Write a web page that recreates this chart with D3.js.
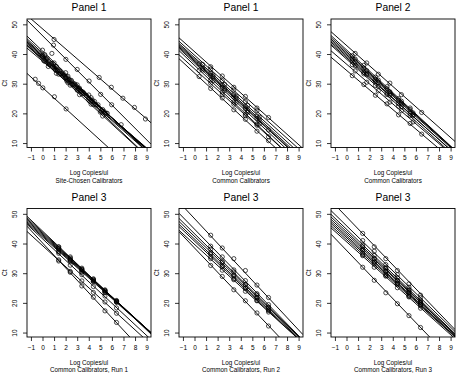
<!DOCTYPE html>
<html lang="en">
<head>
<meta charset="utf-8">
<title>Standard curves by panel</title>
<style type="text/css">
  body { margin: 0; background: #fff; }
  svg { display: block; }
  text { font-family: "Liberation Sans", Arial, Helvetica, sans-serif; fill: #000; }
</style>
<script src="https://cdnjs.cloudflare.com/ajax/libs/d3/7.8.5/d3.min.js"></script>
</head>
<body>
<div id="chart"></div>
<script>
// axis ticks
var xTicks = [-1, 0, 1, 2, 3, 4, 5, 6, 7, 8, 9];
var yTicks = [10, 20, 30, 40, 50];

var panelTitles = ["Panel 1", "Panel 1", "Panel 2", "Panel 3", "Panel 3", "Panel 3"];
var xLabelTop = "Log Copies/ul";
var xLabelSub = ["Site-Chosen Calibrators", "Common Calibrators", "Common Calibrators",
  "Common Calibrators, Run 1", "Common Calibrators, Run 2", "Common Calibrators, Run 3"];

// fitted standard curves: [intercept, slope]  (Ct = a + b * log copies)
var siteFits = [[48.5,-3.375],[46.2,-3.9],[28.7,-3.55],[41.0,-3.75],[40.3,-3.62],[39.8,-3.55],
  [39.4,-3.48],[39.0,-3.42],[38.6,-3.36],[38.3,-3.45],[37.6,-3.28],[39.2,-3.72],[38.0,-3.6]];
var sitePoints = [
  [[1.0,44.9],[4.9,32.1],[5.95,28.8],[6.95,25.1],[7.95,22.0],[8.9,18.1]],
  [[0.95,43.0],[2.02,38.2],[3.0,34.8],[4.03,30.9],[5.03,26.4],[5.98,22.9]],
  [[-0.63,31.5],[-0.34,30.1],[0.03,28.6],[1.03,25.6],[2.04,21.5]],
  [[0.0,41.3],[0.81,40.2],[1.0,37.0],[2.0,33.7],[3.0,29.6],[4.0,26.2]],
  [[0.2,39.8],[1.2,35.8],[2.2,32.5],[3.2,28.5],[4.2,25.3],[5.2,21.3]],
  [[0.4,38.6],[1.5,34.3],[2.5,31.1],[3.5,27.2],[4.5,24.0],[5.5,20.1]],
  [[0.0,39.2],[0.8,36.8],[1.8,32.9],[2.8,29.9],[3.8,26.0],[4.8,22.9]],
  [[0.3,38.2],[1.3,34.4],[2.3,31.3],[3.3,27.5],[4.3,24.5],[5.3,20.7]],
  [[0.6,36.4],[1.6,33.4],[2.6,29.7],[3.6,26.7],[4.6,22.9],[5.6,20.0]],
  [[0.1,37.8],[1.1,34.7],[2.1,30.9],[3.1,27.8],[4.1,24.0],[5.1,20.9]],
  [[0.5,35.8],[1.4,33.2],[2.4,29.5],[3.4,26.6],[4.4,23.0],[5.4,20.1],[6.8,16.2]],
  [[0.0,39.6],[1.0,35.3],[2.0,32.0],[3.0,27.8],[4.0,24.5],[5.0,20.4]],
  [[0.2,37.5],[1.2,33.5],[2.2,30.3],[3.2,26.3],[4.2,23.1],[5.2,19.1]]
];

var common1Fits = [[40.8,-3.48],[39.6,-3.5],[38.8,-3.55],[38.3,-3.6],[37.9,-3.62],
  [37.5,-3.6],[37.0,-3.65],[36.2,-3.7],[35.0,-3.55],[33.6,-3.6]];
var common1Points = [
  [[1.4,35.7],[2.4,32.6],[3.4,28.8],[4.4,25.7],[5.4,21.8],[6.4,18.6]],
  [[1.4,34.9],[2.4,31.0],[3.4,27.9],[4.4,24.0],[5.4,20.9]],
  [[0.7,36.5],[1.6,32.9],[2.6,29.8],[3.6,25.8],[4.6,22.7],[5.6,18.7]],
  [[0.4,36.7],[1.4,33.5],[2.4,29.5],[3.4,26.3],[4.4,22.3],[5.4,19.1]],
  [[0.7,35.2],[1.6,32.3],[2.6,28.3],[3.6,25.1],[4.6,21.0],[5.6,17.8]],
  [[1.4,32.7],[2.4,28.7],[3.4,25.5],[4.4,21.5],[5.4,18.3],[6.4,14.4]],
  [[0.7,34.6],[1.6,31.0],[2.6,27.7],[3.6,23.7],[4.6,20.4],[5.6,16.4]],
  [[0.4,34.5],[1.4,31.2],[2.4,27.1],[3.4,23.8],[4.4,19.7],[5.4,16.4]],
  [[1.4,30.2],[2.4,26.3],[3.4,23.1],[4.4,19.2],[5.4,16.0],[6.4,12.1]],
  [[0.4,32.4],[1.4,28.4],[2.4,25.2],[3.4,21.2],[4.4,18.0],[5.4,14.0],[6.4,10.8]]
];

var panel2Fits = [[42.9,-3.45],[41.4,-3.6],[40.8,-3.55],[40.3,-3.5],[39.8,-3.48],
  [39.3,-3.52],[38.8,-3.45],[38.3,-3.5],[36.6,-3.35],[34.5,-3.3]];
var panel2Points = [
  [[0.75,40.2],[1.75,37.0],[2.75,33.2],[3.75,30.2],[4.75,26.3],[6.5,20.3]],
  [[0.5,39.4],[1.5,36.2],[2.5,32.2],[3.5,29.0],[4.5,25.0],[5.5,21.8]],
  [[0.75,38.3],[1.75,34.4],[2.75,31.2],[3.75,27.3],[4.75,24.1],[5.75,20.2]],
  [[0.5,38.4],[1.5,35.3],[2.5,31.4],[3.5,28.3],[4.5,24.4],[5.5,21.3]],
  [[0.75,37.4],[1.75,33.5],[2.75,30.4],[3.75,26.6],[4.75,23.5],[5.75,19.6]],
  [[0.5,37.7],[1.5,33.8],[2.5,30.7],[3.5,26.8],[4.5,23.3],[5.5,20.1]],
  [[0.75,36.0],[1.75,33.0],[2.75,29.1],[3.75,26.1],[4.75,22.2],[5.75,19.2]],
  [[0.5,36.4],[1.5,33.3],[2.5,29.4],[3.5,26.3],[4.5,22.4],[5.5,19.3]],
  [[0.75,34.3],[1.75,30.5],[2.75,27.6],[3.75,23.8],[4.75,20.9],[5.75,17.1]],
  [[0.5,32.7],[1.5,29.7],[2.5,26.1],[3.5,23.2],[4.5,19.5],[5.5,16.6],[6.5,13.0]]
];

// panel 3 runs all use the same calibrator levels
var runX = [1.4, 2.4, 3.4, 4.4, 5.4, 6.4];

var run1Fits = [[44.2,-3.7],[43.8,-3.62],[43.4,-3.56],[43.0,-3.52],[42.6,-3.48],
  [42.2,-3.45],[41.6,-3.62],[39.3,-3.55],[40.2,-4.2]];
var run1Ct = [
  [38.8,35.5,31.4,28.1,24.0,20.6],
  [38.9,34.8,31.7,27.7,24.4,20.4],
  [38.2,35.1,31.1,27.9,24.0,20.8],
  [38.3,34.4,31.2,27.3,24.1,20.3],
  [37.5,34.4,30.6,27.5,23.6,20.5],
  [37.2,34.1,30.3,27.2,23.4,20.2],
  [36.7,32.7,29.5,25.5,22.3,18.3],
  [34.5,30.6,27.4,23.5,20.3,16.5],
  [34.1,30.3,25.7,21.9,17.3,13.4]
];

var run2Fits = [[48.4,-4.17],[44.85,-3.99],[43.3,-3.85],[42.4,-3.76],[41.5,-3.71],
  [40.8,-3.67],[39.7,-3.55],[38.5,-4.09]];
var run2Ct = [
  [42.8,38.5,34.9,30.9,26.0,21.8],
  [39.1,35.5,31.1,27.5,23.1,19.4],
  [38.1,33.9,30.4,26.2,22.7,18.6],
  [36.9,33.6,29.4,26.1,21.9,18.4],
  [36.5,32.4,29.1,25.0,21.7,17.7],
  [35.5,32.2,28.1,24.9,20.8,17.4],
  [34.9,31.0,27.8,23.9,20.7,16.9],
  [32.6,28.9,24.4,20.7,16.6,12.2]
];

var run3Fits = [[49.0,-4.05],[46.0,-3.8],[44.8,-3.75],[44.0,-3.7],[43.3,-3.62],
  [42.6,-3.6],[42.0,-3.55],[41.3,-3.5],[40.6,-3.48],[37.7,-4.06]];
var run3Ct = [
  [43.4,38.9,34.9,30.9,26.4,22.6],
  [41.0,37.4,32.9,29.5,25.3,21.8],
  [39.4,36.0,31.9,28.5,24.4,20.9],
  [38.9,34.9,31.6,27.5,24.2,20.2],
  [38.0,34.8,30.8,27.6,23.6,20.3],
  [37.8,33.8,30.6,26.6,23.4,19.5],
  [36.8,33.7,29.7,26.6,22.6,19.4],
  [36.2,33.1,29.2,26.1,22.2,19.0],
  [35.9,32.0,29.0,25.1,22.0,18.2],
  [32.0,27.6,23.4,19.7,15.7,11.7]
];

function pairUp(ctRows) {
  return ctRows.map(function(row) {
    return row.map(function(ct, i) { return [runX[i], ct]; });
  });
}

var panels = [
  { fits: siteFits, pts: sitePoints },
  { fits: common1Fits, pts: common1Points },
  { fits: panel2Fits, pts: panel2Points },
  { fits: run1Fits, pts: pairUp(run1Ct) },
  { fits: run2Fits, pts: pairUp(run2Ct) },
  { fits: run3Fits, pts: pairUp(run3Ct) }
];

var width = 462, height = 374;
var colLeft = [27, 179, 331], rowTop = [19, 208.5];
var boxW = 124, boxH = 128.5;
var xDomain = [-1.34, 9.38], yDomain = [8.5, 51.8];

var svg = d3.select("#chart").append("svg")
  .attr("width", width)
  .attr("height", height);

panels.forEach(function(p, k) {
  var left = colLeft[k % 3], top = rowTop[Math.floor(k / 3)];
  var x = d3.scaleLinear().domain(xDomain).range([left, left + boxW]);
  var y = d3.scaleLinear().domain(yDomain).range([top + boxH, top]);
  var g = svg.append("g");

  g.append("clipPath").attr("id", "clip" + k)
    .append("rect")
    .attr("x", left).attr("y", top)
    .attr("width", boxW).attr("height", boxH);

  var plot = g.append("g").attr("clip-path", "url(#clip" + k + ")");

  // regression lines across the whole panel
  var line = d3.line()
    .x(function(d) { return x(d[0]); })
    .y(function(d) { return y(d[1]); });
  plot.selectAll("path.fit")
    .data(p.fits)
    .enter().append("path")
    .attr("class", "fit")
    .attr("d", function(f) {
      return line(xDomain.map(function(v) { return [v, f[0] + f[1] * v]; }));
    })
    .attr("fill", "none")
    .attr("stroke", "#000")
    .attr("stroke-width", 0.95);

  // observed Ct values
  var allPts = [].concat.apply([], p.pts);
  plot.selectAll("circle")
    .data(allPts)
    .enter().append("circle")
    .attr("cx", function(d) { return x(d[0]); })
    .attr("cy", function(d) { return y(d[1]); })
    .attr("r", 2.1)
    .attr("fill", "none")
    .attr("stroke", "#000")
    .attr("stroke-width", 0.7);

  // frame
  g.append("rect")
    .attr("x", left).attr("y", top)
    .attr("width", boxW).attr("height", boxH)
    .attr("fill", "none")
    .attr("stroke", "#000")
    .attr("stroke-width", 0.9);

  // bottom axis (R style: ticks out, labels below)
  var xAxis = d3.axisBottom(x).tickValues(xTicks).tickSize(4).tickPadding(4);
  var xg = g.append("g")
    .attr("transform", "translate(0," + (top + boxH) + ")")
    .call(xAxis);
  xg.select(".domain").remove();
  xg.selectAll("line").attr("stroke-width", 0.8);
  xg.selectAll("text")
    .attr("font-size", "6.5px")
    .attr("font-family", null);

  // left axis, labels rotated like R's default
  var yAxis = d3.axisLeft(y).tickValues(yTicks).tickSize(4).tickFormat(d3.format("d"));
  var yg = g.append("g")
    .attr("transform", "translate(" + left + ",0)")
    .call(yAxis);
  yg.select(".domain").remove();
  yg.selectAll("line").attr("stroke-width", 0.8);
  yg.selectAll("text")
    .attr("font-size", "6.5px")
    .attr("font-family", null)
    .attr("x", null).attr("dy", null)
    .attr("text-anchor", "middle")
    .attr("transform", "translate(-9.7,0) rotate(-90)");

  // titles and labels
  g.append("text")
    .attr("x", left + boxW / 2).attr("y", top - 8)
    .attr("text-anchor", "middle")
    .attr("font-size", "10.3px")
    .text(panelTitles[k]);

  g.append("text")
    .attr("x", left + boxW / 2).attr("y", top + boxH + 27.8)
    .attr("text-anchor", "middle")
    .attr("font-size", "6.3px")
    .text(xLabelTop);

  g.append("text")
    .attr("x", left + boxW / 2).attr("y", top + boxH + 35.2)
    .attr("text-anchor", "middle")
    .attr("font-size", "6.3px")
    .text(xLabelSub[k]);

  g.append("text")
    .attr("transform", "translate(" + (left - 19.7) + "," + (top + boxH / 2) + ") rotate(-90)")
    .attr("text-anchor", "middle")
    .attr("font-size", "6.5px")
    .text("Ct");
});
</script>
</body>
</html>
